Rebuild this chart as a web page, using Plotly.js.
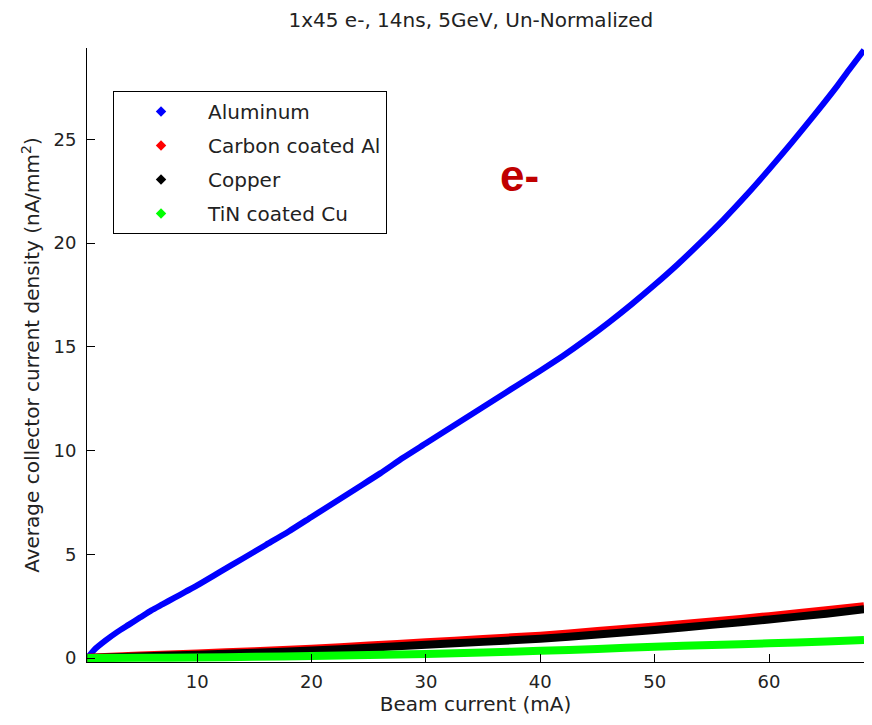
<!DOCTYPE html>
<html><head><meta charset="utf-8">
<script src="https://cdn.plot.ly/plotly-3.0.1.min.js"></script>
<style>html,body{margin:0;padding:0;background:#fff;}#chart{width:872px;height:725px;}</style>
</head><body><div id="chart"></div>
<script>
// Series names
const seriesNames = ["Aluminum", "Carbon coated Al", "Copper", "TiN coated Cu"];
const seriesColors = ["#0000FF", "#FF0000", "#000000", "#00FF00"];

// Aluminum (blue)
const alX = [0.4, 1, 2, 3, 4, 5, 6, 7, 8, 9, 10, 12, 14, 16, 18, 20, 22, 24, 26, 28, 30, 32, 34, 36, 38, 40, 42, 44, 46, 48, 50, 52, 54, 56, 58, 60, 62, 64, 66, 67, 68.3];
const alY = [0, 0.4, 0.85, 1.25, 1.6, 1.95, 2.3, 2.6, 2.9, 3.2, 3.5, 4.15, 4.8, 5.45, 6.1, 6.8, 7.5, 8.2, 8.9, 9.65, 10.35, 11.05, 11.75, 12.45, 13.15, 13.85, 14.57, 15.35, 16.18, 17.06, 17.99, 18.97, 20.02, 21.12, 22.3, 23.55, 24.85, 26.2, 27.6, 28.35, 29.3];

// Carbon coated Al (red)
const caX = [0.4, 5, 10, 15, 20, 25, 30, 35, 40, 45, 50, 55, 60, 65, 68.3];
const caY = [0.02, 0.12, 0.22, 0.33, 0.45, 0.6, 0.76, 0.92, 1.08, 1.3, 1.52, 1.76, 2.02, 2.3, 2.5];

// Copper (black)
const cuX = [0.4, 5, 10, 15, 20, 25, 30, 35, 40, 45, 50, 55, 60, 65, 68.3];
const cuY = [0.0, 0.08, 0.16, 0.26, 0.36, 0.5, 0.64, 0.78, 0.93, 1.13, 1.35, 1.6, 1.86, 2.14, 2.35];

// TiN coated Cu (green)
const tiX = [0.4, 5, 10, 15, 20, 25, 30, 35, 40, 45, 50, 55, 60, 65, 68.3];
const tiY = [0.0, 0.01, 0.03, 0.06, 0.1, 0.15, 0.2, 0.27, 0.35, 0.44, 0.55, 0.63, 0.71, 0.8, 0.87];

const xTicks = [10, 20, 30, 40, 50, 60];
const yTicks = [0, 5, 10, 15, 20, 25];

const FONT = "DejaVu Sans";
const dataX = [alX, caX, cuX, tiX];
const dataY = [alY, caY, cuY, tiY];
const widths = [6, 8, 8, 8];

const traces = [];
for (let i = 0; i < 4; i++) {
  traces.push({
    x: dataX[i], y: dataY[i], type: "scatter", mode: "lines",
    line: {color: seriesColors[i], width: widths[i], shape: "spline", smoothing: 0.6},
    showlegend: false, hoverinfo: "skip"
  });
}
for (let i = 0; i < 4; i++) {
  traces.push({
    x: [null], y: [null], type: "scatter", mode: "markers", name: seriesNames[i],
    legendgroup: "g" + i,
    marker: {symbol: "diamond", size: 8, color: seriesColors[i]}
  });
}

const layout = {
  width: 872, height: 725,
  paper_bgcolor: "#ffffff", plot_bgcolor: "#ffffff",
  margin: {l: 87, r: 8, t: 48, b: 63},
  font: {family: FONT, color: "#000000", size: 18},
  title: {text: "1x45 e-, 14ns, 5GeV, Un-Normalized", font: {family: FONT, size: 20, color: "#222222"},
          xref: "container", x: 0.54, xanchor: "center", yref: "container", y: 0.972, yanchor: "middle"},
  xaxis: {
    range: [0.37, 68.3], tickvals: xTicks, ticktext: xTicks.map(String),
    showline: true, linecolor: "#000", linewidth: 1, mirror: false,
    ticks: "inside", ticklen: 8, tickcolor: "#000", tickwidth: 1,
    showgrid: false, zeroline: false, ticklabelstandoff: 3,
    tickfont: {family: FONT, size: 18, color: "#222"},
    title: {text: "Beam current (mA)", font: {family: FONT, size: 20, color: "#222"}, standoff: 4}
  },
  yaxis: {
    range: [-0.19, 29.4], tickvals: yTicks, ticktext: yTicks.map(String),
    showline: true, linecolor: "#000", linewidth: 1, mirror: false,
    ticks: "inside", ticklen: 8, tickcolor: "#000", tickwidth: 1,
    showgrid: false, zeroline: false, ticklabelstandoff: 6,
    tickfont: {family: FONT, size: 18, color: "#222"},
    title: {text: "Average collector current density (nA/mm<sup>2</sup>)", font: {family: FONT, size: 20, color: "#222"}, standoff: 8}
  },
  legend: {
    x: 0.0335, y: 0.93, xanchor: "left", yanchor: "top",
    bgcolor: "#ffffff", bordercolor: "#000000", borderwidth: 1,
    font: {family: FONT, size: 20, color: "#222"},
    itemwidth: 84, tracegroupgap: 5, traceorder: "grouped"
  },
  annotations: [{
    text: "e-", xref: "paper", yref: "paper", x: 0.557, y: 0.792, xanchor: "center", yanchor: "middle",
    showarrow: false, font: {family: "Liberation Sans", size: 44, color: "#C00000", weight: 700}
  }]
};

Plotly.newPlot("chart", traces, layout, {displayModeBar: false, staticPlot: true});
</script>
</body></html>
